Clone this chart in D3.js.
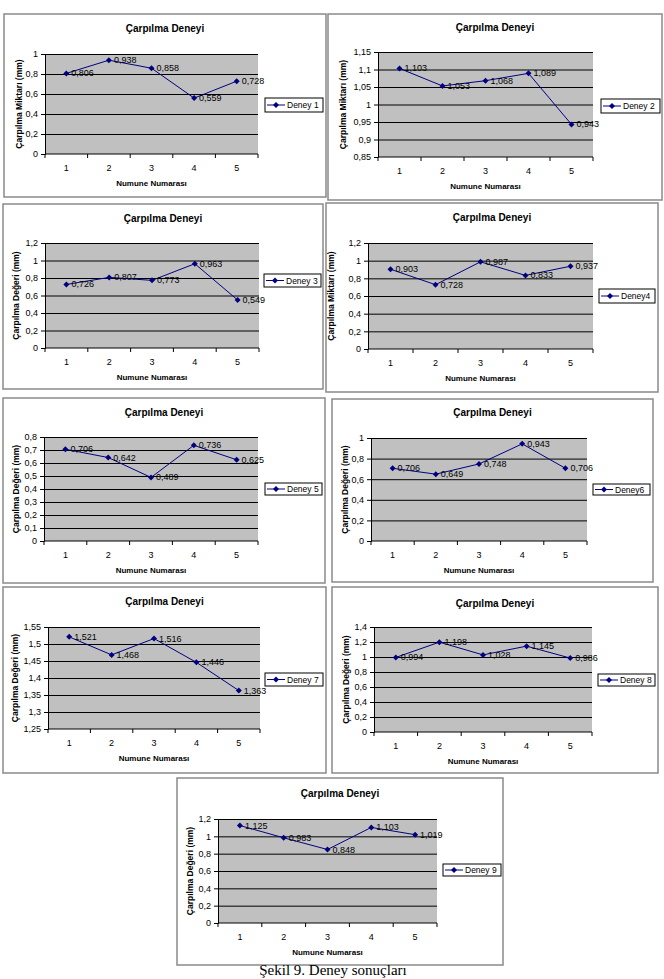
<!DOCTYPE html>
<html>
<head>
<meta charset="utf-8">
<script src="https://cdn.jsdelivr.net/npm/d3@7"></script>
<style>
    body { margin: 0; background: #fff; }
    svg { display: block; }
    text { font-family: "Liberation Sans", Arial, sans-serif; fill: #000; }
</style>
</head>
<body>
<div id="chart"></div>
<script>
// ---- data ----
const categories = ["1", "2", "3", "4", "5"];

const deney1 = [0.806, 0.938, 0.858, 0.559, 0.728];
const deney2 = [1.103, 1.053, 1.068, 1.089, 0.943];
const deney3 = [0.726, 0.807, 0.773, 0.963, 0.549];
const deney4 = [0.903, 0.728, 0.987, 0.833, 0.937];
const deney5 = [0.706, 0.642, 0.489, 0.736, 0.625];
const deney6 = [0.706, 0.649, 0.748, 0.943, 0.706];
const deney7 = [1.521, 1.468, 1.516, 1.446, 1.363];
const deney8 = [0.994, 1.198, 1.028, 1.145, 0.986];
const deney9 = [1.125, 0.983, 0.848, 1.103, 1.019];

const ticks1 = [0, 0.2, 0.4, 0.6, 0.8, 1];
const ticks2 = [0.85, 0.9, 0.95, 1, 1.05, 1.1, 1.15];
const ticks3 = [0, 0.2, 0.4, 0.6, 0.8, 1, 1.2];
const ticks5 = [0, 0.1, 0.2, 0.3, 0.4, 0.5, 0.6, 0.7, 0.8];
const ticks7 = [1.25, 1.3, 1.35, 1.4, 1.45, 1.5, 1.55];
const ticks8 = [0, 0.2, 0.4, 0.6, 0.8, 1, 1.2, 1.4];

const legendNames = ["Deney 1", "Deney 2", "Deney 3", "Deney4", "Deney 5", "Deney6", "Deney 7", "Deney 8", "Deney 9"];
const yTitleMiktar = "Çarpılma Miktarı (mm)";
const yTitleDeger = "Çarpılma Değeri (mm)";
const chartTitle = "Çarpılma Deneyi";
const xTitle = "Numune Numarası";
const caption = "Şekil 9. Deney sonuçları";

// one entry per small chart (built from the arrays above)
const charts = [
    {values: deney1, ticks: ticks1, yTitle: yTitleMiktar, name: legendNames[0]},
    {values: deney2, ticks: ticks2, yTitle: yTitleMiktar, name: legendNames[1]},
    {values: deney3, ticks: ticks3, yTitle: yTitleDeger, name: legendNames[2]},
    {values: deney4, ticks: ticks3, yTitle: yTitleMiktar, name: legendNames[3]},
    {values: deney5, ticks: ticks5, yTitle: yTitleDeger, name: legendNames[4]},
    {values: deney6, ticks: ticks1, yTitle: yTitleDeger, name: legendNames[5]},
    {values: deney7, ticks: ticks7, yTitle: yTitleDeger, name: legendNames[6]},
    {values: deney8, ticks: ticks8, yTitle: yTitleDeger, name: legendNames[7]},
    {values: deney9, ticks: ticks3, yTitle: yTitleDeger, name: legendNames[8]}
];

// page layout of each panel: frame, plot area, title line, legend box, y title
const layout = [
    {frame: [4, 14, 322, 183],   plot: [45, 54, 213, 100],   titleY: 28,  legend: [265, 98, 58, 14],  yTitleX: 19},
    {frame: [328, 14, 334, 186], plot: [378, 52, 215, 105],  titleY: 27,  legend: [601, 99, 59, 14],  yTitleX: 343},
    {frame: [3, 204, 320, 185],  plot: [45, 243, 214, 105],  titleY: 218, legend: [264, 274, 57, 13], yTitleX: 16},
    {frame: [326, 203, 332, 189],plot: [368, 243, 225, 106], titleY: 217, legend: [599, 289, 56, 14], yTitleX: 331},
    {frame: [3, 398, 322, 185],  plot: [44, 437, 214, 104],  titleY: 412, legend: [265, 483, 57, 12], yTitleX: 16},
    {frame: [332, 399, 321, 183],plot: [371, 438, 216, 103], titleY: 412, legend: [593, 484, 57, 11], yTitleX: 345},
    {frame: [3, 587, 323, 186],  plot: [48, 627, 212, 102],  titleY: 601, legend: [265, 673, 58, 13], yTitleX: 15},
    {frame: [332, 587, 326, 186],plot: [374, 627, 218, 105], titleY: 603, legend: [598, 674, 57, 12], yTitleX: 346},
    {frame: [177, 778, 326, 187],plot: [218, 819, 219, 104], titleY: 793, legend: [443, 864, 58, 12], yTitleX: 190}
];

const locale = d3.formatLocale({decimal: ",", thousands: ".", grouping: [3], currency: ["", ""]});
const tickFmt = locale.format("~g");
const valFmt = locale.format(".3f");

const lineColor = "#000080";
const diamond = d3.symbol().type(d3.symbolSquare).size(18);

const svg = d3.select("#chart").append("svg")
    .attr("width", 664)
    .attr("height", 979);

svg.append("rect").attr("width", 664).attr("height", 979).attr("fill", "#fff");

function drawChart(chart, box) {
    let g = svg.append("g");
    let [fx, fy, fw, fh] = box.frame;
    let [px, py, pw, ph] = box.plot;

    // frame
    g.append("rect")
        .attr("x", fx).attr("y", fy)
        .attr("width", fw).attr("height", fh)
        .attr("fill", "#fff")
        .attr("stroke", "#8a8a8a")
        .attr("stroke-width", 1.5);

    // title
    g.append("text")
        .attr("x", fx + fw / 2).attr("y", box.titleY)
        .attr("text-anchor", "middle")
        .attr("dominant-baseline", "central")
        .attr("font-size", "10px")
        .attr("font-weight", "bold")
        .text(chartTitle);

    // scales
    let x = d3.scalePoint().domain(categories).range([px, px + pw]).padding(0.5);
    let y = d3.scaleLinear().domain(d3.extent(chart.ticks)).range([py + ph, py]);

    // plot area
    g.append("rect")
        .attr("x", px).attr("y", py)
        .attr("width", pw).attr("height", ph)
        .attr("fill", "#c0c0c0");

    // gridlines
    g.append("g")
        .attr("transform", `translate(${px},0)`)
        .call(d3.axisLeft(y).tickValues(chart.ticks.slice(1)).tickSize(-pw).tickFormat(""))
        .call(a => a.select(".domain").remove())
        .call(a => a.selectAll("line").attr("stroke", "#000").attr("stroke-width", 1));

    // y axis
    g.append("g")
        .attr("transform", `translate(${px},0)`)
        .call(d3.axisLeft(y).tickValues(chart.ticks).tickSize(4).tickPadding(3).tickFormat(tickFmt))
        .call(a => a.select(".domain").attr("stroke", "#000"))
        .call(a => a.selectAll("line").attr("stroke", "#000"))
        .call(a => a.selectAll("text").attr("font-size", "9px").attr("font-family", null));

    // x axis (ticks between categories, labels under categories)
    let step = x.step();
    let xAxis = g.append("g")
        .attr("transform", `translate(0,${py + ph})`);
    xAxis.append("line")
        .attr("x1", px).attr("x2", px + pw)
        .attr("stroke", "#000");
    xAxis.selectAll(".xtick")
        .data(categories.concat(["end"]))
        .join("line")
        .attr("class", "xtick")
        .attr("x1", (d, i) => px + i * step)
        .attr("x2", (d, i) => px + i * step)
        .attr("y1", 0).attr("y2", 4)
        .attr("stroke", "#000");
    xAxis.selectAll(".xlabel")
        .data(categories)
        .join("text")
        .attr("class", "xlabel")
        .attr("x", d => x(d))
        .attr("y", 14)
        .attr("text-anchor", "middle")
        .attr("dominant-baseline", "central")
        .attr("font-size", "9px")
        .text(d => d);

    // axis titles
    g.append("text")
        .attr("x", px + pw / 2).attr("y", py + ph + 29)
        .attr("text-anchor", "middle")
        .attr("dominant-baseline", "central")
        .attr("font-size", "8px")
        .attr("font-weight", "bold")
        .text(xTitle);

    g.append("text")
        .attr("transform", `translate(${box.yTitleX},${py + ph / 2}) rotate(-90)`)
        .attr("text-anchor", "middle")
        .attr("dominant-baseline", "central")
        .attr("font-size", "8.5px")
        .attr("font-weight", "bold")
        .text(chart.yTitle);

    // series line
    let line = d3.line()
        .x((d, i) => x(categories[i]))
        .y(d => y(d));

    g.append("path")
        .datum(chart.values)
        .attr("d", line)
        .attr("fill", "none")
        .attr("stroke", lineColor)
        .attr("stroke-width", 1);

    g.selectAll(".marker")
        .data(chart.values)
        .join("path")
        .attr("class", "marker")
        .attr("d", diamond)
        .attr("transform", (d, i) => `translate(${x(categories[i])},${y(d)}) rotate(45)`)
        .attr("fill", lineColor);

    // data labels
    g.selectAll(".vlabel")
        .data(chart.values)
        .join("text")
        .attr("class", "vlabel")
        .attr("x", (d, i) => x(categories[i]) + 5)
        .attr("y", d => y(d))
        .attr("dominant-baseline", "central")
        .attr("font-size", "9px")
        .text(d => valFmt(d));

    // legend
    let [lx, ly, lw, lh] = box.legend;
    let leg = g.append("g");
    leg.append("rect")
        .attr("x", lx).attr("y", ly)
        .attr("width", lw).attr("height", lh)
        .attr("fill", "#fff")
        .attr("stroke", "#000");
    leg.append("line")
        .attr("x1", lx + 2).attr("x2", lx + 20)
        .attr("y1", ly + lh / 2).attr("y2", ly + lh / 2)
        .attr("stroke", lineColor);
    leg.append("path")
        .attr("d", diamond)
        .attr("transform", `translate(${lx + 11},${ly + lh / 2}) rotate(45)`)
        .attr("fill", lineColor);
    leg.append("text")
        .attr("x", lx + 22).attr("y", ly + lh / 2)
        .attr("dominant-baseline", "central")
        .attr("font-size", "8.5px")
        .text(chart.name);
}

charts.forEach((c, i) => drawChart(c, layout[i]));

// figure caption at the bottom edge, as in the scan (serif, set via style so the css rule does not win)
svg.append("text")
    .attr("x", 333).attr("y", 975)
    .attr("text-anchor", "middle")
    .style("font-family", "'Liberation Serif', 'Times New Roman', serif")
    .attr("font-size", "15px")
    .text(caption);
</script>
</body>
</html>
